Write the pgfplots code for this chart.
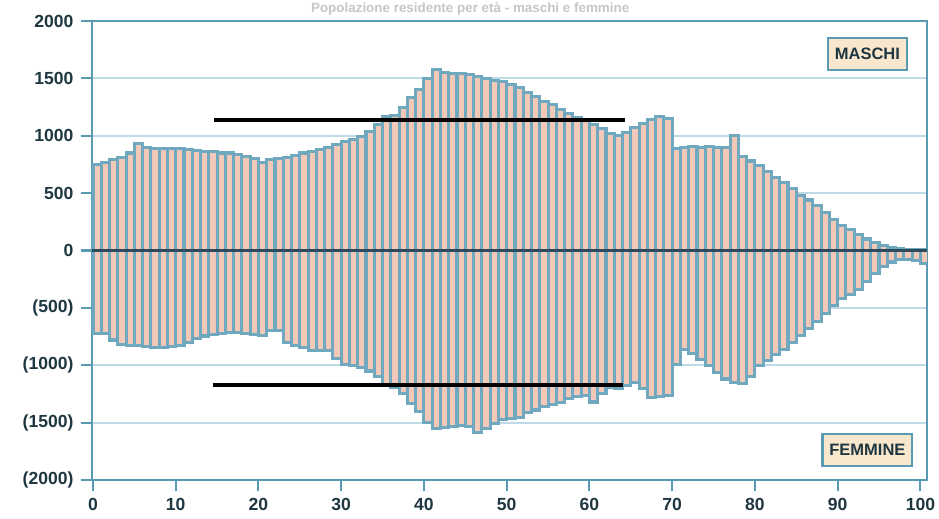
\documentclass[border=0pt]{standalone}
\usepackage{pgfplots}
\pgfplotsset{compat=1.18}
\usepackage{pgfplotstable}
\usepackage{fontspec}
\setmainfont{Liberation Sans}
\definecolor{frameblue}{RGB}{90,155,180}
\definecolor{barfill}{RGB}{242,200,185}
\definecolor{baredge}{RGB}{112,168,192}
\definecolor{gridblue}{RGB}{190,218,230}
\definecolor{labelcol}{RGB}{30,55,65}
\definecolor{zerocol}{RGB}{45,75,90}
\definecolor{boxfill}{RGB}{248,230,205}

\pgfplotstableread{
age m f
0 750 -720
1 770 -720
2 790 -780
3 810 -820
4 850 -830
5 930 -830
6 900 -840
7 890 -845
8 890 -845
9 890 -840
10 885 -830
11 880 -800
12 870 -770
13 860 -745
14 860 -730
15 850 -720
16 850 -715
17 840 -715
18 820 -720
19 800 -730
20 770 -740
21 790 -700
22 800 -700
23 810 -800
24 830 -830
25 850 -845
26 860 -870
27 880 -875
28 900 -875
29 920 -940
30 950 -990
31 970 -1000
32 990 -1020
33 1040 -1050
34 1100 -1100
35 1170 -1180
36 1180 -1190
37 1250 -1250
38 1330 -1330
39 1400 -1400
40 1500 -1500
41 1580 -1550
42 1550 -1540
43 1540 -1530
44 1540 -1525
45 1530 -1530
46 1520 -1585
47 1500 -1550
48 1480 -1510
49 1470 -1470
50 1450 -1465
51 1420 -1455
52 1380 -1410
53 1340 -1390
54 1300 -1360
55 1270 -1340
56 1230 -1325
57 1190 -1290
58 1160 -1275
59 1130 -1265
60 1100 -1320
61 1060 -1250
62 1020 -1195
63 1000 -1205
64 1030 -1180
65 1070 -1150
66 1110 -1200
67 1140 -1280
68 1170 -1270
69 1150 -1260
70 890 -990
71 900 -860
72 910 -900
73 900 -950
74 910 -1000
75 900 -1060
76 900 -1120
77 1000 -1150
78 820 -1160
79 780 -1100
80 740 -1000
81 690 -960
82 640 -910
83 590 -860
84 540 -800
85 480 -740
86 440 -680
87 390 -620
88 330 -550
89 270 -480
90 220 -420
91 180 -380
92 140 -340
93 100 -270
94 70 -200
95 45 -140
96 25 -100
97 15 -80
98 10 -75
99 6 -90
100 4 -110
}\pop

\begin{document}
\begin{tikzpicture}
\begin{axis}[
  scale only axis,
  width=14.228cm, height=7.821cm,
  xmin=-0.12, xmax=100.8,
  ymin=-2000, ymax=2000,
  axis line style={frameblue, line width=1.4pt},
  xtick={0,10,...,100},
  ytick={-2000,-1500,...,2000},
  yticklabels={(2000),(1500),(1000),(500),0,500,1000,1500,2000},
  tick pos=left,
  tick align=outside,
  major tick length=5.5pt,
  tick style={frameblue, line width=1pt},
  ymajorgrids,
  grid style={gridblue, line width=0.9pt},
  /pgf/number format/assume math mode=true,
  tick label style={font=\bfseries\fontsize{8.5}{10}\selectfont, text=labelcol},
  clip=true,
]
\addplot[ybar, bar width=1, bar shift=0pt, fill=barfill, draw=baredge, line width=1.5pt]
  table[x expr=\thisrow{age}+0.5, y=m]{\pop};
\addplot[ybar, bar width=1, bar shift=0pt, fill=barfill, draw=baredge, line width=1.5pt]
  table[x expr=\thisrow{age}+0.5, y=f]{\pop};
\addplot[zerocol, line width=1.4pt] coordinates {(-1,0) (102,0)};
\addplot[black, line width=1.8pt] coordinates {(14.6,1140) (64.3,1140)};
\addplot[black, line width=1.8pt] coordinates {(14.5,-1175) (64.1,-1175)};
\node[draw=frameblue, fill=boxfill, line width=1pt, text=labelcol,
      font=\bfseries\fontsize{8}{9}\selectfont, minimum width=1.3cm, minimum height=0.55cm]
  at (axis cs:93.6,1710) {MASCHI};
\node[draw=frameblue, fill=boxfill, line width=1pt, text=labelcol,
      font=\bfseries\fontsize{8}{9}\selectfont, minimum width=1.48cm, minimum height=0.55cm]
  at (axis cs:93.6,-1736) {FEMMINE};
\end{axis}
\node[anchor=north, inner sep=0.5pt, text=gray!45, font=\bfseries\fontsize{6.5}{7}\selectfont]
  at ([xshift=-0.67cm, yshift=0.33cm]current axis.north) {Popolazione residente per età - maschi e femmine};
\pgfresetboundingbox
\useasboundingbox ([xshift=-1.5676cm, yshift=-0.6645cm]current axis.south west)
  rectangle ([xshift=0.2045cm, yshift=0.358cm]current axis.north east);
\end{tikzpicture}
\end{document}
